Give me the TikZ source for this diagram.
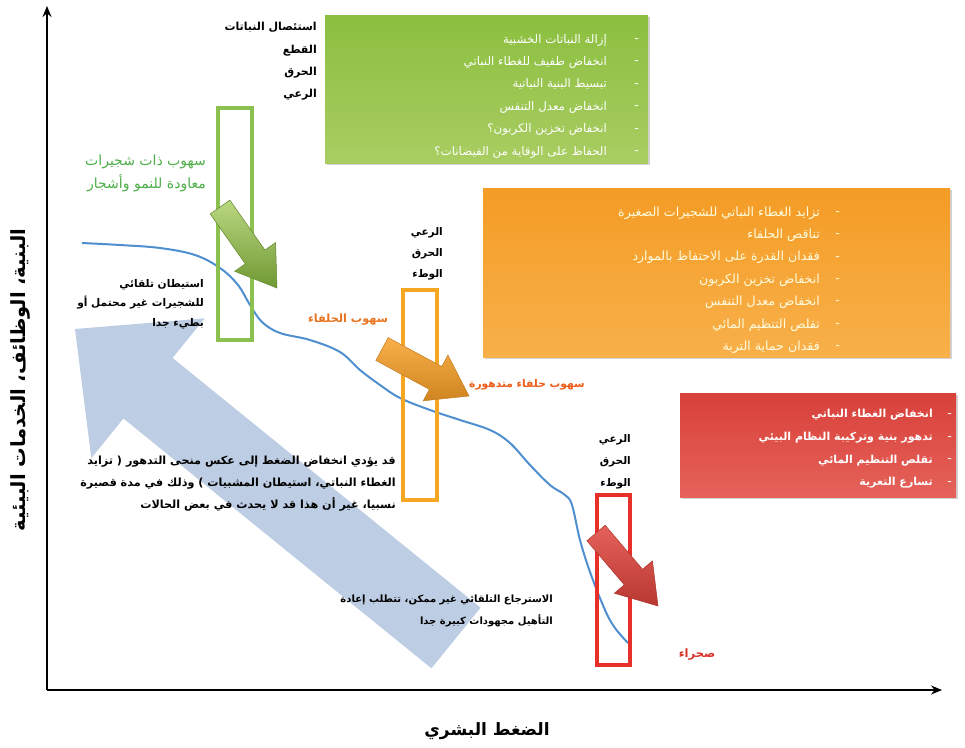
\documentclass[tikz,border=0pt]{standalone}
\usepackage{fontspec}
\newfontfamily\arabicfont[Script=Arabic]{DejaVu Sans}
\TeXXeTstate=1
\usetikzlibrary{calc,shadows,arrows.meta}
\newcommand\ar[1]{{\arabicfont\beginR #1\endR}}
\definecolor{gA}{HTML}{8BBF3F}
\definecolor{gB}{HTML}{A9CD62}
\definecolor{oA}{HTML}{F49C25}
\definecolor{oB}{HTML}{F8B04A}
\definecolor{rA}{HTML}{D8413A}
\definecolor{rB}{HTML}{E5625A}
\definecolor{curveblue}{HTML}{4F8FCF}
\definecolor{bigblue}{HTML}{BDCDE3}
\definecolor{gline}{HTML}{8CC152}
\definecolor{oline}{HTML}{F5A623}
\definecolor{rline}{HTML}{E8302A}
\definecolor{gtext}{HTML}{4FAE4A}
\definecolor{otext}{HTML}{E8731E}
\definecolor{rtext}{HTML}{D9342B}
\newcommand\myarrow[6]{% style, A, B, w, h, L
  \coordinate (tmpH) at ($(#3)!#6!(#2)$);
  \path[#1] ($(#2)!#4!90:(#3)$) -- ($(tmpH)!#4!90:(#3)$) -- ($(tmpH)!#5!90:(#3)$)
    -- (#3) -- ($(tmpH)!#5!-90:(#3)$) -- ($(tmpH)!#4!-90:(#3)$) -- ($(#2)!#4!-90:(#3)$) -- cycle;
}
\tikzset{
  infobox/.style={drop shadow={opacity=0.35,shadow xshift=2pt,shadow yshift=-2pt}},
  boxtext/.style={inner sep=0pt,align=right,text=white},
  bultext/.style={inner sep=0pt,align=center,text=white,font=\fontsize{11}{22.4}\selectfont\bfseries},
  blacklab/.style={inner sep=0pt,align=right,font=\fontsize{11}{22.3}\selectfont\bfseries},
  zone/.style={draw,line width=4pt,inner sep=0pt,fill=none},
}
\begin{document}
\begin{tikzpicture}[x=1pt,y=-1pt]
\useasboundingbox (0,0) rectangle (965,747);
% big light blue arrow
\coordinate (bbA) at (456,638);
\coordinate (bbB) at (75,329);
\myarrow{fill=bigblue}{bbA}{bbB}{39pt}{90pt}{94pt}
% axes
\coordinate (O) at (47,690);
\coordinate (Ytop) at (47,6);
\coordinate (Xend) at (942,690);
\draw[line width=1.6pt,-{Stealth[length=11pt,width=9pt]}] (O) -- (Ytop);
\draw[line width=1.6pt,-{Stealth[length=11pt,width=9pt]}] (O) -- (Xend);
\node[inner sep=0pt,rotate=90,font=\fontsize{19.5}{21}\selectfont\bfseries] (ylab) at (20,380) {\ar{البنية، الوظائف، الخدمات البيئية}};
\node[inner sep=0pt,font=\fontsize{17}{20}\selectfont\bfseries] (xlab) at (487,731) {\ar{الضغط البشري}};
% curve
\draw[curveblue,line width=2pt] plot[smooth,tension=0.6] coordinates {(82,243) (120,245) (160,248) (195,255) (220,268) (238,285) (250,305) (262,322) (280,333) (310,340) (340,352) (360,370) (380,385) (400,398) (430,410) (460,420) (490,430) (510,443) (530,465) (550,485) (565,495) (572,505) (580,540) (590,572) (605,610) (615,628) (628,643)};
% zones
\node[zone,gline,minimum width=34pt,minimum height=232pt] (gz) at (235,224) {};
\node[zone,oline,minimum width=34pt,minimum height=210pt] (oz) at (420,395) {};
\node[zone,rline,minimum width=33pt,minimum height=170pt] (rz) at (613.5,580) {};
% block arrows
\coordinate (gaA) at (220,207);
\coordinate (gaB) at (277,288);
\myarrow{top color=gB!80!white,bottom color=gA!80!black,draw=gA!70!black,line width=0.5pt}{gaA}{gaB}{12pt}{25pt}{38pt}
\coordinate (oaA) at (382,349);
\coordinate (oaB) at (469,396);
\myarrow{top color=oB,bottom color=oA!85!black,draw=oA!80!black,line width=0.5pt}{oaA}{oaB}{13pt}{26pt}{38pt}
\coordinate (raA) at (596,533);
\coordinate (raB) at (658,606);
\myarrow{top color=rB,bottom color=rA!85!black,draw=rA!80!black,line width=0.5pt}{raA}{raB}{12pt}{25pt}{38pt}
% info boxes
\node[infobox,top color=gA,bottom color=gB,minimum width=323pt,minimum height=148pt,inner sep=0pt] (gbox) at (486.5,89) {};
\node[infobox,top color=oA,bottom color=oB,minimum width=467pt,minimum height=169pt,inner sep=0pt] (obox) at (716.5,272.5) {};
\node[infobox,top color=rA,bottom color=rB,minimum width=276pt,minimum height=104pt,inner sep=0pt] (rbox) at (818,445) {};
\node[boxtext,anchor=east,font=\fontsize{11.8}{22.4}\selectfont] (gtxt) at (607,96) {\ar{إزالة النباتات الخشبية}\\\ar{انخفاض طفيف للغطاء النباتي}\\\ar{تبسيط البنية النباتية}\\\ar{انخفاض معدل التنفس}\\\ar{انخفاض تخزين الكربون؟}\\\ar{الحفاظ على الوقاية من الفيضانات؟}};
\node[bultext] (gbul) at (637,96) {-\\-\\-\\-\\-\\-};
\node[boxtext,anchor=east,text=white!88!yellow,font=\fontsize{12.6}{22.4}\selectfont] (otxt) at (820,280) {\ar{تزايد الغطاء النباتي للشجيرات الصغيرة}\\\ar{تناقص الحلفاء}\\\ar{فقدان القدرة على الاحتفاظ بالموارد}\\\ar{انخفاض تخزين الكربون}\\\ar{انخفاض معدل التنفس}\\\ar{تقلص التنظيم المائي}\\\ar{فقدان حماية التربة}};
\node[bultext,text=white!88!yellow] (obul) at (838,280) {-\\-\\-\\-\\-\\-\\-};
\node[boxtext,anchor=east,font=\fontsize{11}{22.6}\selectfont\bfseries] (rtxt) at (933,449) {\ar{انخفاض الغطاء النباتي}\\\ar{تدهور بنية وتركيبة النظام البيئي}\\\ar{تقلص التنظيم المائي}\\\ar{تسارع التعرية}};
\node[bultext,font=\fontsize{11}{22.6}\selectfont\bfseries] (rbul) at (950,449) {-\\-\\-\\-};
% labels
\node[blacklab,anchor=east] (glab) at (317,61.5) {\ar{استئصال النباتات}\\\ar{القطع}\\\ar{الحرق}\\\ar{الرعي}};
\node[inner sep=0pt,align=right,text=gtext,anchor=east,font=\fontsize{14}{23}\selectfont] (gname) at (206,173.5) {\ar{سهوب ذات شجيرات}\\\ar{معاودة للنمو وأشجار}};
\node[blacklab,anchor=east,font=\fontsize{10.6}{19.5}\selectfont\bfseries] (slow) at (204,304) {\ar{استيطان تلقائي}\\\ar{للشجيرات غير محتمل أو}\\\ar{بطيء جدا}};
\node[blacklab,anchor=east,font=\fontsize{10.5}{21}\selectfont\bfseries] (olab) at (443,254) {\ar{الرعي}\\\ar{الحرق}\\\ar{الوطء}};
\node[inner sep=0pt,text=otext,font=\fontsize{11.3}{12}\selectfont\bfseries] (oname) at (348,320) {\ar{سهوب الحلفاء}};
\node[inner sep=0pt,text=otext!80!red,font=\fontsize{10.7}{12}\selectfont\bfseries] (odeg) at (527,385) {\ar{سهوب حلفاء متدهورة}};
\node[blacklab,anchor=east,font=\fontsize{11.2}{22}\selectfont\bfseries] (revtxt) at (396,484) {\ar{قد يؤدي انخفاض الضغط إلى عكس منحى التدهور ( تزايد}\\\ar{الغطاء النباتي، استيطان المشبيات ) وذلك في مدة قصيرة}\\\ar{نسبيا، غير أن هذا قد لا يحدث في بعض الحالات}};
\node[blacklab,anchor=east,font=\fontsize{10.5}{22}\selectfont\bfseries] (rlab) at (631,462) {\ar{الرعي}\\\ar{الحرق}\\\ar{الوطء}};
\node[blacklab,anchor=east,font=\fontsize{10}{22}\selectfont\bfseries] (irrev) at (553,611) {\ar{الاسترجاع التلقائي غير ممكن، تتطلب إعادة}\\\ar{التأهيل مجهودات كبيرة جدا}};
\node[inner sep=0pt,text=rtext,font=\fontsize{11.5}{12}\selectfont\bfseries] (desert) at (697,655) {\ar{صحراء}};
\end{tikzpicture}
\end{document}
